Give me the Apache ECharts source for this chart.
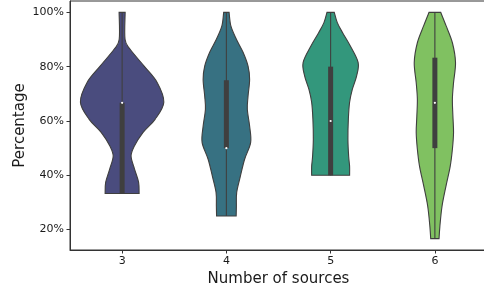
<!DOCTYPE html>
<html>
<head>
<meta charset="utf-8">
<script src="https://cdn.jsdelivr.net/npm/echarts@6/dist/echarts.min.js"></script>
<style>html,body{margin:0;padding:0;background:#fff;}#chart{width:484px;height:289px;}</style>
</head>
<body>
<div id="chart"></div>
<script>
const categories = ['3', '4', '5', '6'];
const yTicks = [20, 40, 60, 80, 100];

// violin outlines: percentage levels and half-width (fraction of category band)
const levels3 = [33.3, 37.4, 42.2, 47.0, 50.6, 55.8, 60.6, 66.9, 74.2, 80.2, 86.4, 90.1, 100];
const widths3 = [0.163, 0.158, 0.120, 0.086, 0.115, 0.201, 0.316, 0.400, 0.336, 0.211, 0.077, 0.028, 0.029];

const levels4 = [25, 28.6, 33.7, 39.6, 45.9, 52.1, 58.1, 64.3, 69.2, 75.3, 80.2, 85.3, 90.1, 95, 100];
const widths4 = [0.094, 0.096, 0.099, 0.134, 0.175, 0.233, 0.223, 0.201, 0.208, 0.223, 0.208, 0.160, 0.096, 0.043, 0.026];

const levels5 = [40, 43.3, 47.0, 53.2, 60.6, 66.9, 71.6, 76.5, 81.5, 87.6, 92.5, 96.2, 100];
const widths5 = [0.182, 0.182, 0.173, 0.166, 0.170, 0.182, 0.208, 0.249, 0.264, 0.189, 0.115, 0.064, 0.035];

const levels6 = [16.7, 21.2, 28.7, 36.1, 43.3, 49.6, 55.8, 61.8, 68.0, 74.1, 81.5, 88.8, 95, 100];
const widths6 = [0.040, 0.048, 0.069, 0.107, 0.147, 0.168, 0.179, 0.173, 0.168, 0.179, 0.198, 0.168, 0.108, 0.056];

// inner box statistics
const whiskerLow = [33.3, 25, 40, 16.7];
const q1 = [33.3, 50, 40, 50];
const median = [66.7, 50, 60, 66.7];
const q3 = [66.7, 75, 80, 83.3];
const whiskerHigh = [100, 100, 100, 100];

const fills = ['#4a4c7e', '#377182', '#33977c', '#80c161'];

const violinLevels = [levels3, levels4, levels5, levels6];
const violinWidths = [widths3, widths4, widths5, widths6];

const edge = '#3f3f3f';

// smooth curve through pixel points (Catmull-Rom as cubic Beziers), continuing a path
function curveSegments(p) {
  let d = '';
  for (let k = 0; k < p.length - 1; k++) {
    const p0 = p[Math.max(k - 1, 0)], p1 = p[k], p2 = p[k + 1], p3 = p[Math.min(k + 2, p.length - 1)];
    const c1x = p1[0] + (p2[0] - p0[0]) / 6, c1y = p1[1] + (p2[1] - p0[1]) / 6;
    const c2x = p2[0] - (p3[0] - p1[0]) / 6, c2y = p2[1] - (p3[1] - p1[1]) / 6;
    d += ' C ' + c1x.toFixed(2) + ' ' + c1y.toFixed(2) + ' ' + c2x.toFixed(2) + ' ' + c2y.toFixed(2) + ' ' + p2[0].toFixed(2) + ' ' + p2[1].toFixed(2);
  }
  return d;
}

function renderItem(params, api) {
  const i = params.dataIndex;
  const lv = violinLevels[i], wd = violinWidths[i];
  const band = api.size([1, 0])[0];
  const cx = api.coord([i, 50])[0];
  const right = [], left = [];
  for (let k = 0; k < lv.length; k++) {
    const y = api.coord([i, lv[k]])[1];
    right.push([cx + wd[k] * band, y]);
    left.push([cx - wd[k] * band, y]);
  }
  left.reverse();
  const d = 'M ' + right[0][0].toFixed(2) + ' ' + right[0][1].toFixed(2) + curveSegments(right) +
            ' L ' + left[0][0].toFixed(2) + ' ' + left[0][1].toFixed(2) + curveSegments(left) + ' Z';
  const yLo = api.coord([i, whiskerLow[i]])[1];
  const yHi = api.coord([i, whiskerHigh[i]])[1];
  const yQ1 = api.coord([i, q1[i]])[1];
  const yQ3 = api.coord([i, q3[i]])[1];
  const yMed = api.coord([i, median[i]])[1];
  return {
    type: 'group',
    children: [
      { type: 'path', shape: { pathData: d },
        style: { fill: fills[i], stroke: edge, lineWidth: 1.1, lineJoin: 'miter' } },
      { type: 'line', shape: { x1: cx, y1: yLo, x2: cx, y2: yHi },
        style: { stroke: edge, lineWidth: 1.1 } },
      { type: 'rect', shape: { x: cx - 2.5, y: yQ3, width: 5, height: yQ1 - yQ3 },
        style: { fill: edge } },
      { type: 'circle', shape: { cx: cx, cy: yMed, r: 1.1 },
        style: { fill: '#ffffff' } }
    ]
  };
}

const chart = echarts.init(document.getElementById('chart'), null, { renderer: 'canvas' });
chart.setOption({
  animation: false,
  textStyle: { fontFamily: 'DejaVu Sans' },
  grid: { left: 70, top: 1, width: 417, height: 249, outerBoundsMode: 'none', containLabel: false,
          show: true, borderColor: '#333', borderWidth: 1, backgroundColor: 'transparent' },
  xAxis: {
    type: 'category',
    data: categories,
    boundaryGap: true,
    name: 'Number of sources',
    nameLocation: 'middle',
    nameGap: 22,
    nameMoveOverlap: false,
    nameTextStyle: { fontSize: 15, color: '#1a1a1a', fontFamily: 'DejaVu Sans' },
    axisLine: { show: true, lineStyle: { color: '#333', width: 1 } },
    axisTick: { show: true, alignWithLabel: true, length: 3.5, lineStyle: { color: '#333' } },
    axisLabel: { fontSize: 11, color: '#1a1a1a', margin: 6, fontFamily: 'DejaVu Sans' },
    splitLine: { show: false }
  },
  yAxis: {
    type: 'value',
    min: 12.5,
    max: 104.17,
    name: 'Percentage',
    nameLocation: 'middle',
    nameGap: 42,
    nameMoveOverlap: false,
    nameRotate: 90,
    nameTextStyle: { fontSize: 15, color: '#1a1a1a', fontFamily: 'DejaVu Sans' },
    axisLine: { show: true, lineStyle: { color: '#333', width: 1 } },
    axisTick: { show: true, length: 3.5, customValues: yTicks, lineStyle: { color: '#333' } },
    axisLabel: { fontSize: 11, color: '#1a1a1a', margin: 6, customValues: yTicks, formatter: '{value}%', fontFamily: 'DejaVu Sans' },
    splitLine: { show: false }
  },
  series: [{
    type: 'custom',
    renderItem: renderItem,
    encode: { x: 0, y: 1 },
    data: categories.map((c, i) => [i, median[i]]),
    clip: false
  }]
});
</script>
</body>
</html>
